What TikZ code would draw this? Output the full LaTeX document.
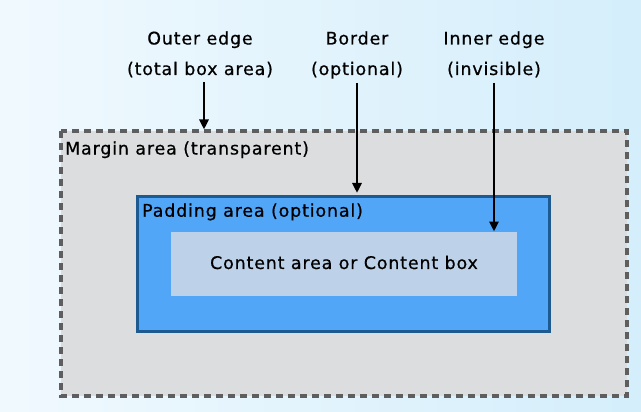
\documentclass[tikz,border=0pt]{standalone}
\usepackage{fontspec}
\setmainfont[LetterSpace=5,FakeBold=0.6]{DejaVu Sans}
\usetikzlibrary{arrows.meta}
\definecolor{bgL}{HTML}{F0F9FE}
\definecolor{bgR}{HTML}{D4EEFB}
\definecolor{marginfill}{HTML}{DCDDDF}
\definecolor{margindash}{HTML}{5E5E5E}
\definecolor{padfill}{HTML}{51A6F8}
\definecolor{padborder}{HTML}{1E5A92}
\definecolor{contentfill}{HTML}{BDD2E8}
\begin{document}
\begin{tikzpicture}[x=1pt,y=-1pt,
  lbl/.style={font=\fontsize{17.4}{20}\selectfont, inner sep=0pt, anchor=base, text=black},
  lblw/.style={lbl, anchor=base west},
  ptr/.style={line width=2.6pt, -{Triangle[width=9pt,length=10pt]}, shorten >=0pt}]
\useasboundingbox (0,0) rectangle (641,412);
\shade[left color=bgL, right color=bgR] (0,0) rectangle (641,412);
% margin box
\draw[fill=marginfill, draw=margindash, line width=4pt, dash pattern=on 7pt off 5pt]
  (61,131) rectangle (627,396);
\node[inner sep=0pt] (margin) at (344,263.5) [minimum width=566pt, minimum height=265pt] {};
% padding box
\draw[fill=padfill, draw=padborder, line width=3pt] (137.5,196) rectangle (549.5,331);
\node[inner sep=0pt, minimum width=412pt, minimum height=135pt] (padding) at (343.5,263.5) {};
% content box
\fill[contentfill] (171,232) rectangle (516.5,295.5);
\node[inner sep=0pt, minimum width=345.5pt, minimum height=63.5pt] (content) at (343.75,263.75) {};
% labels
\node[lblw] (mlabel) at (65,154.5) {Margin area (transparent)};
\node[lblw] (plabel) at (142,216.7) {Padding area (optional)};
\node[lbl] (clabel) at (344,269) {Content area or Content box};
\node[lbl] (outer1) at (200,44.5) {Outer edge};
\node[lbl] (outer2) at (200,75) {(total box area)};
\node[lbl] (border1) at (357,44.5) {Border};
\node[lbl] (border2) at (357,75) {(optional)};
\node[lbl] (inner1) at (494,44.5) {Inner edge};
\node[lbl] (inner2) at (494,75) {(invisible)};
% arrow endpoints
\coordinate (a1s) at (204,82);
\coordinate (a1e) at (204,129.5);
\coordinate (a2s) at (357,83);
\coordinate (a2e) at (357,193);
\coordinate (a3s) at (494,83);
\coordinate (a3e) at (494,231.5);
\draw[ptr] (a1s) -- (a1e);
\draw[ptr] (a2s) -- (a2e);
\draw[ptr] (a3s) -- (a3e);
\end{tikzpicture}
\end{document}
